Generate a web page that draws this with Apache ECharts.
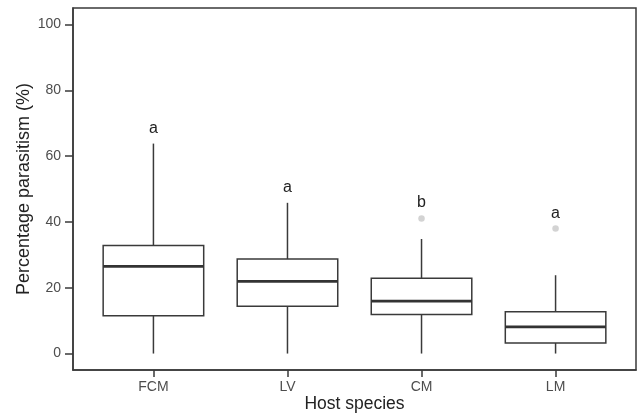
<!DOCTYPE html>
<html>
<head>
<meta charset="utf-8">
<title>Percentage parasitism by host species</title>
<script src="https://cdn.jsdelivr.net/npm/echarts@6/dist/echarts.min.js"></script>
<style>
  html, body { margin: 0; padding: 0; background: #fff; }
  #chart { width: 638px; height: 419px; }
</style>
</head>
<body>
<div id="chart"></div>
<script>
// Host species on the x axis
const categories = ['FCM', 'LV', 'CM', 'LM'];

// Box statistics per host species (percentage parasitism)
const whiskerLow  = [0, 0, 0, 0];
const lowerQuart  = [11.5, 14.4, 11.9, 3.2];
const medians     = [26.5, 21.9, 15.9, 8.1];
const upperQuart  = [32.8, 28.7, 22.9, 12.7];
const whiskerHigh = [63.8, 45.8, 34.8, 23.8];

// Outlying observations
const outlierHosts  = ['CM', 'LM'];
const outlierValues = [41, 38];

// Significance letters and the height they sit at
const letters      = ['a', 'a', 'b', 'a'];
const letterHeight = [68.5, 50.5, 46, 42.6];

// Y-axis tick values
const yTicks = [0, 20, 40, 60, 80, 100];

const FONT = '"Liberation Sans", Arial, Helvetica, sans-serif';
const INK = '#3a3a3a';

const pos = name => categories.indexOf(name) + 1;

const boxData = categories.map((c, i) => [i + 1, whiskerLow[i], lowerQuart[i], medians[i], upperQuart[i], whiskerHigh[i]]);
const outlierData = outlierHosts.map((h, i) => [pos(h), outlierValues[i]]);
const letterData = categories.map((c, i) => [i + 1, letterHeight[i], letters[i]]);

function renderBox(params, api) {
  const x = api.value(0);
  const pLow = api.coord([x, api.value(1)]);
  const pQ1 = api.coord([x, api.value(2)]);
  const pMed = api.coord([x, api.value(3)]);
  const pQ3 = api.coord([x, api.value(4)]);
  const pHigh = api.coord([x, api.value(5)]);
  const half = api.size([0.75, 0])[0] / 2;
  const cx = pMed[0];
  const lineStyle = { stroke: INK, lineWidth: 1.5, fill: null };
  return {
    type: 'group',
    children: [
      { type: 'line', shape: { x1: cx, y1: pLow[1], x2: cx, y2: pQ1[1] }, style: lineStyle },
      { type: 'line', shape: { x1: cx, y1: pQ3[1], x2: cx, y2: pHigh[1] }, style: lineStyle },
      { type: 'rect', shape: { x: cx - half, y: pQ3[1], width: half * 2, height: pQ1[1] - pQ3[1] },
        style: { stroke: INK, lineWidth: 1.5, fill: '#ffffff' } },
      { type: 'line', shape: { x1: cx - half, y1: pMed[1], x2: cx + half, y2: pMed[1] },
        style: { stroke: '#333333', lineWidth: 2.8 } }
    ]
  };
}

function renderLetter(params, api) {
  const p = api.coord([api.value(0), api.value(1)]);
  return {
    type: 'text',
    x: p[0],
    y: p[1],
    style: {
      text: letterData[params.dataIndex][2],
      font: '16px ' + FONT,
      fill: '#222222',
      align: 'center',
      verticalAlign: 'middle'
    }
  };
}

const chart = echarts.init(document.getElementById('chart'), null, { renderer: 'canvas' });

chart.setOption({
  animation: false,
  backgroundColor: '#ffffff',
  grid: {
    left: 73, top: 8, width: 563, height: 362,
    show: true, borderColor: INK, borderWidth: 1.5, backgroundColor: 'transparent'
  },
  xAxis: {
    type: 'value',
    min: 0.4,
    max: 4.6,
    name: 'Host species',
    nameLocation: 'middle',
    nameGap: 25,
    nameMoveOverlap: false,
    nameTextStyle: { fontFamily: FONT, fontSize: 17.5, color: '#222222' },
    axisLine: { show: true, onZero: false, lineStyle: { color: INK, width: 1.5 } },
    axisTick: { show: true, length: 7, customValues: [1, 2, 3, 4], lineStyle: { color: INK, width: 1.5 } },
    axisLabel: {
      customValues: [1, 2, 3, 4],
      margin: 10,
      fontFamily: FONT, fontSize: 14, color: '#4d4d4d',
      formatter: v => categories[Math.round(v) - 1]
    },
    splitLine: { show: false }
  },
  yAxis: {
    type: 'value',
    min: -5,
    max: 105,
    name: 'Percentage parasitism (%)',
    nameLocation: 'middle',
    nameGap: 40,
    nameMoveOverlap: false,
    nameTextStyle: { fontFamily: FONT, fontSize: 18, color: '#222222' },
    axisLine: { show: true, onZero: false, lineStyle: { color: INK, width: 1.5 } },
    axisTick: { show: true, length: 8, customValues: yTicks, lineStyle: { color: INK, width: 1.5 } },
    axisLabel: {
      customValues: yTicks,
      margin: 12,
      fontFamily: FONT, fontSize: 14, color: '#4d4d4d'
    },
    splitLine: { show: false }
  },
  series: [
    {
      type: 'custom',
      name: 'boxes',
      renderItem: renderBox,
      data: boxData,
      encode: { x: 0, y: [1, 2, 3, 4, 5] },
      z: 2
    },
    {
      type: 'scatter',
      name: 'outliers',
      data: outlierData,
      symbol: 'circle',
      symbolSize: 6.5,
      itemStyle: { color: '#c8c8c8' },
      z: 3
    },
    {
      type: 'custom',
      name: 'letters',
      renderItem: renderLetter,
      data: letterData.map(d => [d[0], d[1]]),
      encode: { x: 0, y: 1 },
      z: 4
    }
  ]
});
</script>
</body>
</html>
